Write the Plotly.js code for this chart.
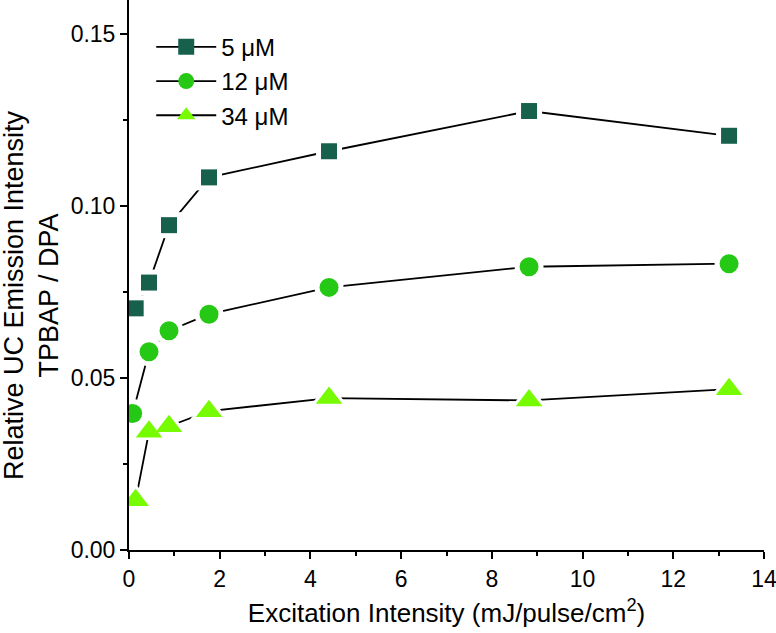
<!DOCTYPE html>
<html>
<head>
<meta charset="utf-8">
<script src="https://cdn.plot.ly/plotly-3.0.1.min.js"></script>
<style>html,body{margin:0;padding:0;background:#fff;}#chart{width:776px;height:633px;}</style>
</head>
<body>
<div id="chart"></div>
<script>
// Excitation intensity (mJ/pulse/cm^2)
const x5 = [0.147, 0.441, 0.882, 1.764, 4.41, 8.82, 13.23];
const x12 = [0.08, 0.441, 0.882, 1.764, 4.41, 8.82, 13.23];
const x34 = [0.147, 0.441, 0.882, 1.764, 4.41, 8.82, 13.23];
// Relative UC emission intensity TPBAP / DPA
const y5 = [0.0703, 0.0778, 0.0945, 0.1084, 0.1160, 0.1277, 0.1205];
const y12 = [0.0397, 0.0577, 0.0638, 0.0686, 0.0764, 0.0824, 0.0833];
const y34 = [0.0145, 0.0344, 0.0360, 0.0404, 0.0442, 0.0435, 0.0468];
const seriesNames = ['5 \u03bcM', '12 \u03bcM', '34 \u03bcM'];
const xTickVals = [0, 2, 4, 6, 8, 10, 12, 14];
const yTickVals = [0, 0.05, 0.10, 0.15];
const xTitle = 'Excitation Intensity (mJ/pulse/cm<sup>2</sup>)';
const yTitle = 'Relative UC Emission Intensity<br>TPBAP / DPA';

const colors = ['#17604c', '#25c814', '#76fb00'];
const symbols = ['square', 'circle', 'triangle-up'];
const sizes = [16, 19, 23];
const xs = [x5, x12, x34];
const ys = [y5, y12, y34];

const traces = [];
for (let i = 0; i < 3; i++) {
  traces.push({
    x: xs[i], y: ys[i], type: 'scatter', mode: 'lines+markers', name: seriesNames[i],
    line: {color: '#000', width: 1.8},
    marker: {symbol: symbols[i], color: colors[i], size: sizes[i]},
    showlegend: true
  });
}
for (let i = 0; i < 3; i++) {
  traces.push({
    x: xs[i], y: ys[i], type: 'scatter', mode: 'markers',
    marker: {symbol: symbols[i], color: '#fff', size: sizes[i] + 10},
    showlegend: false, hoverinfo: 'skip'
  });
}
for (let i = 0; i < 3; i++) {
  traces.push({
    x: xs[i], y: ys[i], type: 'scatter', mode: 'markers',
    marker: {symbol: symbols[i], color: colors[i], size: sizes[i]},
    showlegend: false
  });
}

const fontFam = 'Liberation Sans, Arial, sans-serif';
const layout = {
  width: 776, height: 633,
  margin: {l: 129, r: 12, t: 0, b: 83},
  paper_bgcolor: '#fff', plot_bgcolor: '#fff',
  font: {family: fontFam, color: '#000', size: 22},
  showlegend: true,
  legend: {x: 0.035, y: 0.955, xanchor: 'left', yanchor: 'top', bgcolor: 'rgba(0,0,0,0)',
           font: {size: 24, family: fontFam}, itemwidth: 60, tracegroupgap: 0},
  xaxis: {
    range: [0, 14], tickvals: xTickVals, ticktext: xTickVals.map(String),
    showline: true, linecolor: '#000', linewidth: 2, mirror: false,
    ticks: 'outside', ticklen: 7, tickwidth: 2, tickcolor: '#000',
    minor: {dtick: 1, tick0: 0, ticks: 'outside', ticklen: 4, tickwidth: 2, tickcolor: '#000'},
    showgrid: false, zeroline: false, ticklabeloverflow: 'allow',
    tickfont: {size: 23},
    title: {text: xTitle, font: {size: 26}, standoff: 13}
  },
  yaxis: {
    range: [0, 0.16], tickvals: yTickVals, ticktext: yTickVals.map(v => v.toFixed(2)),
    showline: true, linecolor: '#000', linewidth: 2, mirror: false,
    ticks: 'outside', ticklen: 7, tickwidth: 2, tickcolor: '#000',
    minor: {dtick: 0.025, tick0: 0, ticks: 'outside', ticklen: 4, tickwidth: 2, tickcolor: '#000'},
    showgrid: false, zeroline: false, ticklabeloverflow: 'allow',
    tickfont: {size: 23}
  },
  annotations: [{
    text: yTitle, textangle: -90, showarrow: false,
    xref: 'paper', yref: 'paper', x: 0, y: 0.4636, xanchor: 'center', yanchor: 'middle',
    xshift: -98, font: {size: 27, family: fontFam, color: '#000'}, align: 'center'
  }]
};
Plotly.newPlot('chart', traces, layout, {displayModeBar: false, staticPlot: true});
</script>
</body>
</html>
